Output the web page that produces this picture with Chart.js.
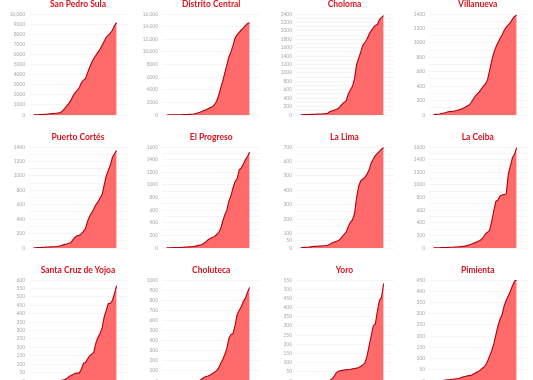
<!DOCTYPE html>
<html>
<head>
<meta charset="utf-8">
<script src="https://cdn.jsdelivr.net/npm/chart.js@4"></script>
<style>
  html, body { margin: 0; padding: 0; background: #fff; overflow: hidden; }
  #wrap { position: relative; width: 533px; height: 400px; }
  .panel { position: absolute; width: 133px; height: 133px; }
  .panel canvas { position: absolute; left: 0; top: 0; }
  .ttl { position: absolute; left: 29px; width: 98px; top: 0px; text-align: center;
         font: bold 8.5px Lato, "Open Sans", sans-serif; line-height: 9px; color: #d9121b; white-space: nowrap; }
</style>
</head>
<body>
<div id="wrap"></div>
<script>
// ---- DATA ----
const dayIndex = [0,1,2,3,4,5,6,7,8,9,10,11,12,13,14,15,16,17,18,19,20,21,22,23,24,25,26,27,28,29,30,31,32,33,34,35,36,37,38,39,40];

const cityNames = ["San Pedro Sula","Distrito Central","Choloma","Villanueva","Puerto Cortés","El Progreso","La Lima","La Ceiba","Santa Cruz de Yojoa","Choluteca","Yoro","Pimienta"];

const sanPedroSula = [20,25,30,40,50,60,80,100,120,140,150,180,210,250,400,650,900,1150,1450,1900,2200,2450,2700,3200,3450,3600,4200,4700,5200,5600,5900,6200,6500,6900,7300,7700,7900,8100,8400,8850,9150];
const distritoCentral = [10,15,20,25,30,35,40,50,60,70,80,100,120,150,220,320,420,550,700,850,1000,1150,1300,1600,2100,3000,4200,5300,6600,7900,9200,10000,11000,12200,12700,13100,13500,13800,14200,14500,14600];
const choloma = [5,6,8,10,12,14,16,18,20,22,25,28,32,40,75,95,115,130,150,200,260,300,340,500,600,680,870,1200,1350,1500,1660,1730,1800,1920,2000,2070,2130,2150,2270,2320,2360];
const villanueva = [5,8,10,15,22,28,35,45,48,50,55,62,70,78,90,105,120,135,170,215,260,290,320,360,400,430,490,620,750,860,940,1000,1060,1110,1170,1220,1250,1280,1330,1365,1385];
const puertoCortes = [3,4,5,6,8,10,12,13,15,17,18,20,25,30,40,50,55,65,75,115,150,170,175,195,230,270,370,440,490,540,600,640,690,740,870,1000,1080,1150,1260,1310,1350];
const elProgreso = [3,4,5,6,7,8,9,10,12,14,16,18,20,25,30,38,45,55,75,100,130,150,165,180,210,245,300,420,520,600,740,830,950,1050,1100,1240,1270,1330,1400,1450,1520];
const laLima = [2,3,4,5,6,8,10,11,12,13,14,16,17,19,25,35,40,45,50,60,78,95,112,150,178,195,240,350,430,465,478,490,512,540,590,615,640,655,670,685,695];
const laCeiba = [2,3,4,5,6,7,8,10,12,13,15,17,20,22,25,30,38,48,58,72,85,100,115,135,170,225,250,280,420,590,740,760,825,840,845,860,1170,1300,1430,1490,1590];
const santaCruzDeYojoa = [0,0,0,0,0,0,0,0,0,0,1,1,2,3,5,8,15,26,32,38,46,47,47,70,106,110,130,150,160,170,225,260,280,315,380,420,460,460,480,520,566];
const choluteca = [0,0,0,0,0,0,0,0,0,0,0,0,0,1,2,3,5,20,35,45,50,60,72,88,100,125,170,210,260,320,420,460,470,550,660,700,735,790,820,880,927];
const yoro = [0,0,0,0,0,0,0,0,0,0,0,0,1,2,4,10,22,42,52,56,58,60,62,63,64,66,68,70,74,80,88,98,135,190,245,300,311,380,440,455,531];
const pimienta = [0,0,1,1,2,3,4,5,6,8,9,10,11,14,18,20,22,24,25,30,35,40,45,53,60,70,88,112,135,165,205,245,275,295,335,360,380,400,425,445,450];

const seriesList = [sanPedroSula, distritoCentral, choloma, villanueva, puertoCortes, elProgreso, laLima, laCeiba, santaCruzDeYojoa, choluteca, yoro, pimienta];

const yMaxima = [10000,16000,2400,1400,1400,1600,700,1600,600,1000,550,450];
const gridSteps = [1000,2000,100,100,100,100,50,100,50,100,50,50];

const ticksSanPedroSula = [0,1000,2000,3000,4000,5000,6000,7000,8000,9000,10000];
const ticksDistritoCentral = [0,2000,4000,6000,8000,10000,12000,14000,16000];
const ticksCholoma = [0,200,400,600,800,1000,1200,1400,1600,1800,2000,2200,2400];
const ticksVillanueva = [0,200,400,600,800,1000,1200,1400];
const ticksPuertoCortes = [0,200,400,600,800,1000,1200,1400];
const ticksElProgreso = [0,200,400,600,800,1000,1200,1400,1600];
const ticksLaLima = [0,50,100,200,300,400,500,600,700];
const ticksLaCeiba = [0,200,400,600,800,1000,1200,1400,1600];
const ticksSantaCruz = [0,50,100,150,200,250,300,350,400,450,500,550,600];
const ticksCholuteca = [0,100,200,300,400,500,600,700,800,900,1000];
const ticksYoro = [0,50,100,150,200,250,300,350,400,450,500,550];
const ticksPimienta = [0,50,100,150,200,250,300,350,400,450];
const tickLabelLists = [ticksSanPedroSula, ticksDistritoCentral, ticksCholoma, ticksVillanueva, ticksPuertoCortes, ticksElProgreso, ticksLaLima, ticksLaCeiba, ticksSantaCruz, ticksCholuteca, ticksYoro, ticksPimienta];

// ---- DRAW ----
function fmt(v) {
  return v >= 10000 ? v.toLocaleString('en-US') : String(v);
}

const wrap = document.getElementById('wrap');
cityNames.forEach((name, k) => {
  const col = k % 4, row = Math.floor(k / 4);
  const panel = document.createElement('div');
  panel.className = 'panel';
  panel.style.left = (col * 133.25) + 'px';
  panel.style.top = (row * 133) + 'px';
  const cv = document.createElement('canvas');
  cv.width = 133; cv.height = 133;
  cv.style.width = '133px'; cv.style.height = '133px';
  panel.appendChild(cv);
  const t = document.createElement('div');
  t.className = 'ttl';
  t.textContent = name;
  panel.appendChild(t);
  wrap.appendChild(panel);

  const labels = tickLabelLists[k];
  new Chart(cv, {
    type: 'line',
    data: {
      datasets: [{
        data: dayIndex.map((d, i) => ({ x: d, y: seriesList[k][i] })),
        borderColor: '#b0000d',
        borderWidth: 1.1,
        backgroundColor: '#ff6b6b',
        fill: 'origin',
        pointRadius: 0,
        tension: 0
      }]
    },
    options: {
      responsive: false,
      animation: false,
      events: [],
      layout: { padding: { top: 14, bottom: 18, left: 0, right: 6 } },
      plugins: { legend: { display: false }, tooltip: { enabled: false }, title: { display: false } },
      scales: {
        x: { type: 'linear', display: false, min: -2.2, max: 45 },
        y: {
          min: 0,
          max: yMaxima[k],
          afterFit: s => { s.width = 29; },
          border: { display: false },
          grid: { color: '#f1f1f1', lineWidth: 0.7, drawTicks: false },
          ticks: {
            stepSize: gridSteps[k],
            autoSkip: false,
            padding: 4,
            color: '#a8a8a8',
            font: { family: 'Lato', size: 4.9 },
            callback: v => labels.includes(v) ? fmt(v) : ''
          }
        }
      }
    }
  });
});
</script>
</body>
</html>
